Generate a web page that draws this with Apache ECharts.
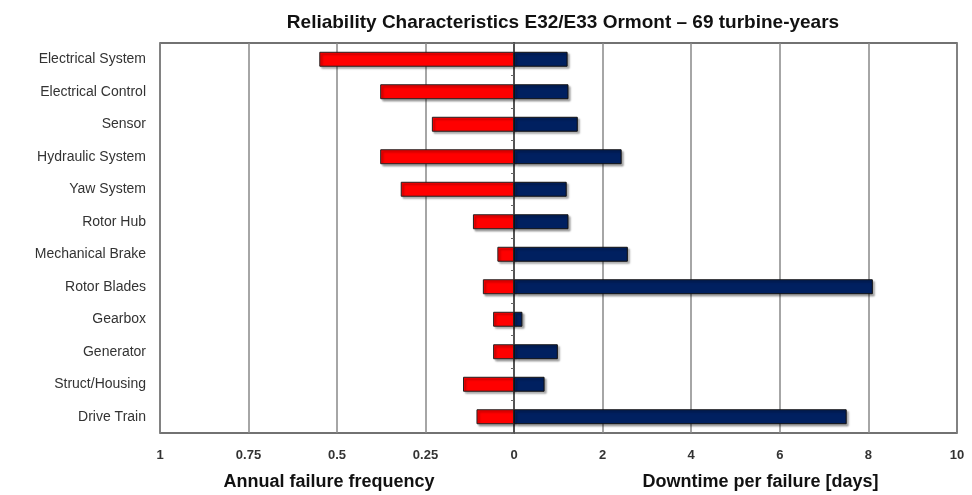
<!DOCTYPE html>
<html>
<head>
<meta charset="utf-8">
<script src="https://cdn.jsdelivr.net/npm/echarts@6/dist/echarts.min.js"></script>
<style>
    html, body { margin: 0; padding: 0; background: #fff; }
    #chart { width: 972px; height: 495px; }
</style>
</head>
<body>
<div id="chart"></div>
<script>
    // components, top to bottom
    let components = ['Electrical System', 'Electrical Control', 'Sensor', 'Hydraulic System',
        'Yaw System', 'Rotor Hub', 'Mechanical Brake', 'Rotor Blades', 'Gearbox',
        'Generator', 'Struct/Housing', 'Drive Train'];
    // annual failure frequency (left side)
    let failureFreq = [0.55, 0.378, 0.232, 0.378, 0.32, 0.116, 0.047, 0.088, 0.059, 0.059, 0.144, 0.106];
    // downtime per failure in days (right side)
    let downtimeDays = [1.21, 1.23, 1.44, 2.43, 1.19, 1.23, 2.57, 8.1, 0.19, 0.99, 0.69, 7.51];

    let myChart = echarts.init(document.getElementById('chart'));

    let barShadow = {
        shadowColor: 'rgba(0,0,0,0.35)',
        shadowBlur: 2,
        shadowOffsetX: 2,
        shadowOffsetY: 2
    };

    let option = {
        animation: false,
        textStyle: { fontFamily: 'Liberation Sans, Arial, sans-serif' },
        title: {
            text: 'Reliability Characteristics E32/E33 Ormont \u2013 69 turbine-years',
            left: 558,
            textAlign: 'center',
            top: 8,
            textStyle: { fontSize: 19, fontWeight: 'bold', color: '#111' }
        },
        grid: [
            { left: 160, right: 458, top: 43, bottom: 62, outerBoundsMode: 'none', containLabel: false,
              show: true, borderColor: '#444', borderWidth: 1.5 },
            { left: 514, right: 15, top: 43, bottom: 62, outerBoundsMode: 'none', containLabel: false,
              show: true, borderColor: '#444', borderWidth: 1.5 }
        ],
        xAxis: [
            {
                gridIndex: 0,
                type: 'value',
                inverse: true,
                min: 0,
                max: 1,
                interval: 0.25,
                axisLine: { show: false },
                axisTick: { show: false },
                splitLine: { lineStyle: { color: '#888', width: 1.5 } },
                axisLabel: { color: '#333', fontSize: 13, fontWeight: 'bold', margin: 16 },
                name: 'Annual failure frequency',
                nameLocation: 'middle',
                nameGap: 40,
                nameTextStyle: { fontSize: 18, fontWeight: 'bold', color: '#111', padding: [0, 16, 0, 0] }
            },
            {
                gridIndex: 1,
                type: 'value',
                min: 0,
                max: 10,
                interval: 2,
                axisLine: { show: false },
                axisTick: { show: false },
                splitLine: { lineStyle: { color: '#888', width: 1.5 } },
                axisLabel: { color: '#333', fontSize: 13, fontWeight: 'bold', margin: 16, showMinLabel: false },
                name: 'Downtime per failure [days]',
                nameLocation: 'middle',
                nameGap: 40,
                nameTextStyle: { fontSize: 18, fontWeight: 'bold', color: '#111', padding: [0, 0, 0, 50] }
            }
        ],
        yAxis: [
            {
                gridIndex: 0,
                type: 'category',
                inverse: true,
                data: components,
                axisLine: { show: false },
                axisTick: { show: false },
                axisLabel: { color: '#333', fontSize: 14, margin: 14 }
            },
            {
                gridIndex: 1,
                type: 'category',
                inverse: true,
                data: components,
                axisLine: { show: true, lineStyle: { color: '#444', width: 1.5 } },
                axisTick: { show: true, length: 3, lineStyle: { color: '#666' } },
                axisLabel: { show: false }
            }
        ],
        series: [
            {
                name: 'Annual failure frequency',
                type: 'bar',
                xAxisIndex: 0,
                yAxisIndex: 0,
                barWidth: '46%',
                data: failureFreq,
                itemStyle: Object.assign({ color: '#ff0000', borderColor: '#222', borderWidth: 1 }, barShadow)
            },
            {
                name: 'Downtime per failure',
                type: 'bar',
                xAxisIndex: 1,
                yAxisIndex: 1,
                barWidth: '46%',
                data: downtimeDays,
                itemStyle: Object.assign({ color: '#002060', borderColor: '#111', borderWidth: 1 }, barShadow)
            }
        ]
    };

    myChart.setOption(option);
</script>
</body>
</html>
